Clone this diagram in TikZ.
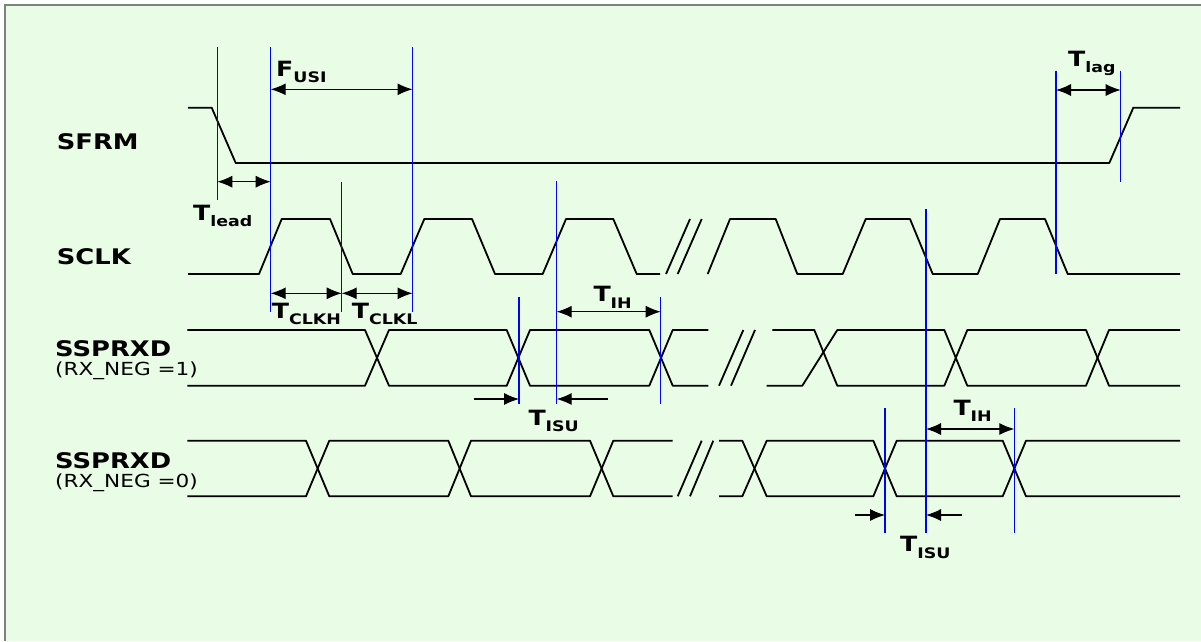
\documentclass[tikz,border=0pt]{standalone}
\usepackage{graphicx}
\usepackage{fontspec}
\setmainfont{DejaVu Sans}
\usetikzlibrary{arrows.meta}
\definecolor{bgc}{RGB}{232,252,230}
\definecolor{framec}{RGB}{128,128,128}
\newcommand\wx[1]{\scalebox{1.2}[1]{#1}}
\newcommand\signame[1]{\wx{\fontsize{21.5}{21.5}\selectfont\bfseries #1}}
\newcommand\condname[1]{\wx{\fontsize{18}{18}\selectfont #1}}
\newcommand\tmlabel[2]{\wx{\fontsize{21}{21}\selectfont\bfseries #1\raisebox{-6.5pt}{\fontsize{14.5}{14.5}\selectfont #2}}}
\begin{document}
\begin{tikzpicture}[x=1pt,y=-1pt,
  wave/.style={line width=1.8pt,black,line join=round},
  marker/.style={line width=1.5pt,blue},
  dim/.style={line width=1.1pt,black,{Latex[length=15pt,width=12pt]}-{Latex[length=15pt,width=12pt]}},
  dimone/.style={line width=1.1pt,black,-{Latex[length=15pt,width=12pt]}},
  txt/.style={inner sep=0pt,anchor=base west}]
\useasboundingbox (0,0) rectangle (1201,641);
\fill[white] (0,0) rectangle (1201,641);
\fill[bgc] (5,5) rectangle (1201,641);
\draw[framec,line width=2pt] (5,641) -- (5,5) -- (1201,5);

% signal names
\node[txt] (sfrm) at (56.7,149.3) {\signame{SFRM}};
\node[txt] (sclk) at (56.7,264) {\signame{SCLK}};
\node[txt] (rx1) at (55,356.5) {\signame{SSPRXD}};
\node[txt] (rx1c) at (55,375) {\condname{(RX\_NEG =1)}};
\node[txt] (rx0) at (55,468.3) {\signame{SSPRXD}};
\node[txt] (rx0c) at (55,487) {\condname{(RX\_NEG =0)}};

% SFRM
\draw[wave] (188,107.7) -- (211.7,107.7) -- (235.7,163) -- (1109.3,163) -- (1133.3,107.7) -- (1180,107.7);

% SCLK
\draw[wave] (188,274) -- (259,274) -- (281.7,219) -- (330,219) -- (352.7,274) -- (400.7,274) -- (424.3,219) -- (472,219) -- (495,274) -- (542.7,274) -- (566,219) -- (613.3,219) -- (636.7,274) -- (660,274);
\draw[wave] (666,274) -- (690,219);
\draw[wave] (677.7,274) -- (701.7,219);
\draw[wave] (707.7,274) -- (730,219) -- (775.7,219) -- (797.3,274) -- (842.7,274) -- (865.7,219) -- (910,219) -- (932.7,274) -- (977.7,274) -- (1000,219) -- (1045,219) -- (1067.7,274) -- (1180,274);

% SSPRXD RX_NEG=1
\draw[wave] (187.3,330) -- (365,330) -- (389,385.7) -- (506.7,385.7) -- (530,330) -- (649.3,330) -- (672.7,385.7) -- (708.3,385.7);
\draw[wave] (187.3,385.7) -- (365,385.7) -- (389,330) -- (506.7,330) -- (530,385.7) -- (649.3,385.7) -- (672.7,330) -- (708.3,330);
\draw[wave] (719,385.7) -- (743.3,330);
\draw[wave] (731,385.7) -- (755,330);
\draw[wave] (772.3,330) -- (814.3,330) -- (837.3,385.7) -- (944.3,385.7) -- (967.3,330) -- (1086,330) -- (1109,385.7) -- (1180,385.7);
\draw[wave] (766.7,385.7) -- (802.3,385.7) -- (837.3,330) -- (944.3,330) -- (967.3,385.7) -- (1086,385.7) -- (1109,330) -- (1180,330);

% SSPRXD RX_NEG=0
\draw[wave] (187.3,440.7) -- (306,440.7) -- (329.3,496.3) -- (448.3,496.3) -- (471,440.7) -- (590,440.7) -- (613.3,496.3) -- (672.5,496.3);
\draw[wave] (187.3,496.3) -- (306,496.3) -- (329.3,440.7) -- (448.3,440.7) -- (471,496.3) -- (590,496.3) -- (613.3,440.7) -- (672.5,440.7);
\draw[wave] (677.7,496.3) -- (701.7,440.7);
\draw[wave] (690,496.3) -- (713.3,440.7);
\draw[wave] (719,440.7) -- (742.3,440.7) -- (766.7,496.3) -- (873.3,496.3) -- (896.7,440.7) -- (1002.7,440.7) -- (1026,496.3) -- (1180,496.3);
\draw[wave] (719,496.3) -- (742.3,496.3) -- (766.7,440.7) -- (873.3,440.7) -- (896.7,496.3) -- (1002.7,496.3) -- (1026,440.7) -- (1180,440.7);

% marker lines
\coordinate (m1t) at (217.3,47);   \coordinate (m1b) at (217.3,200);
\coordinate (m2t) at (270.7,47);   \coordinate (m2b) at (270.7,312);
\coordinate (m3t) at (341.7,181.7);\coordinate (m3b) at (341.7,312);
\coordinate (m4t) at (412.5,47);   \coordinate (m4b) at (412.5,312);
\coordinate (m5t) at (519,297);    \coordinate (m5b) at (519,404);
\coordinate (m6t) at (556.7,181);  \coordinate (m6b) at (556.7,404);
\coordinate (m7t) at (660.7,297);  \coordinate (m7b) at (660.7,404);
\coordinate (m8t) at (885,408);    \coordinate (m8b) at (885,533);
\coordinate (m9t) at (926,209);    \coordinate (m9b) at (926,533);
\coordinate (m10t) at (1014.3,408);\coordinate (m10b) at (1014.3,533);
\coordinate (m11t) at (1056,70.7); \coordinate (m11b) at (1056,274.3);
\coordinate (m12t) at (1120.7,70.7);\coordinate (m12b) at (1120.7,181.7);
\foreach \i in {1,...,12} { \draw[marker] (m\i t) -- (m\i b); }

% dimension arrows
\draw[dim] (m2t |- 0,89.3) -- (m4t |- 0,89.3);
\draw[dim] (m1t |- 0,181.7) -- (m2t |- 0,181.7);
\draw[dim] (m2t |- 0,293.3) -- (m3t |- 0,293.3);
\draw[dim] (m3t |- 0,293.3) -- (m4t |- 0,293.3);
\draw[dim] (m6t |- 0,311.7) -- (m7t |- 0,311.7);
\draw[dim] (m11t |- 0,90) -- (m12t |- 0,90);
\draw[dim] (m9t |- 0,429) -- (m10t |- 0,429);
\coordinate (isu1a) at (474.3,399);
\coordinate (isu1b) at (607.7,399);
\draw[dimone] (isu1a) -- (m5t |- isu1a);
\draw[dimone] (isu1b) -- (m6t |- isu1b);
\coordinate (isu2a) at (855,515);
\coordinate (isu2b) at (961.7,515);
\draw[dimone] (isu2a) -- (m8t |- isu2a);
\draw[dimone] (isu2b) -- (m9t |- isu2b);

% timing labels
\node[txt] (fusi) at (276,76) {\tmlabel{F}{USI}};
\node[txt] (tlead) at (193,220) {\tmlabel{T}{lead}};
\node[txt] (tclkh) at (271.7,318) {\tmlabel{T}{CLKH}};
\node[txt] (tclkl) at (351.7,318) {\tmlabel{T}{CLKL}};
\node[txt] (tih1) at (593.3,301.7) {\tmlabel{T}{IH}};
\node[txt] (tisu1) at (528.3,425) {\tmlabel{T}{ISU}};
\node[txt] (tih2) at (953.3,415) {\tmlabel{T}{IH}};
\node[txt] (tisu2) at (900,551.7) {\tmlabel{T}{ISU}};
\node[txt] (tlag) at (1068,66) {\tmlabel{T}{lag}};
\end{tikzpicture}
\end{document}
